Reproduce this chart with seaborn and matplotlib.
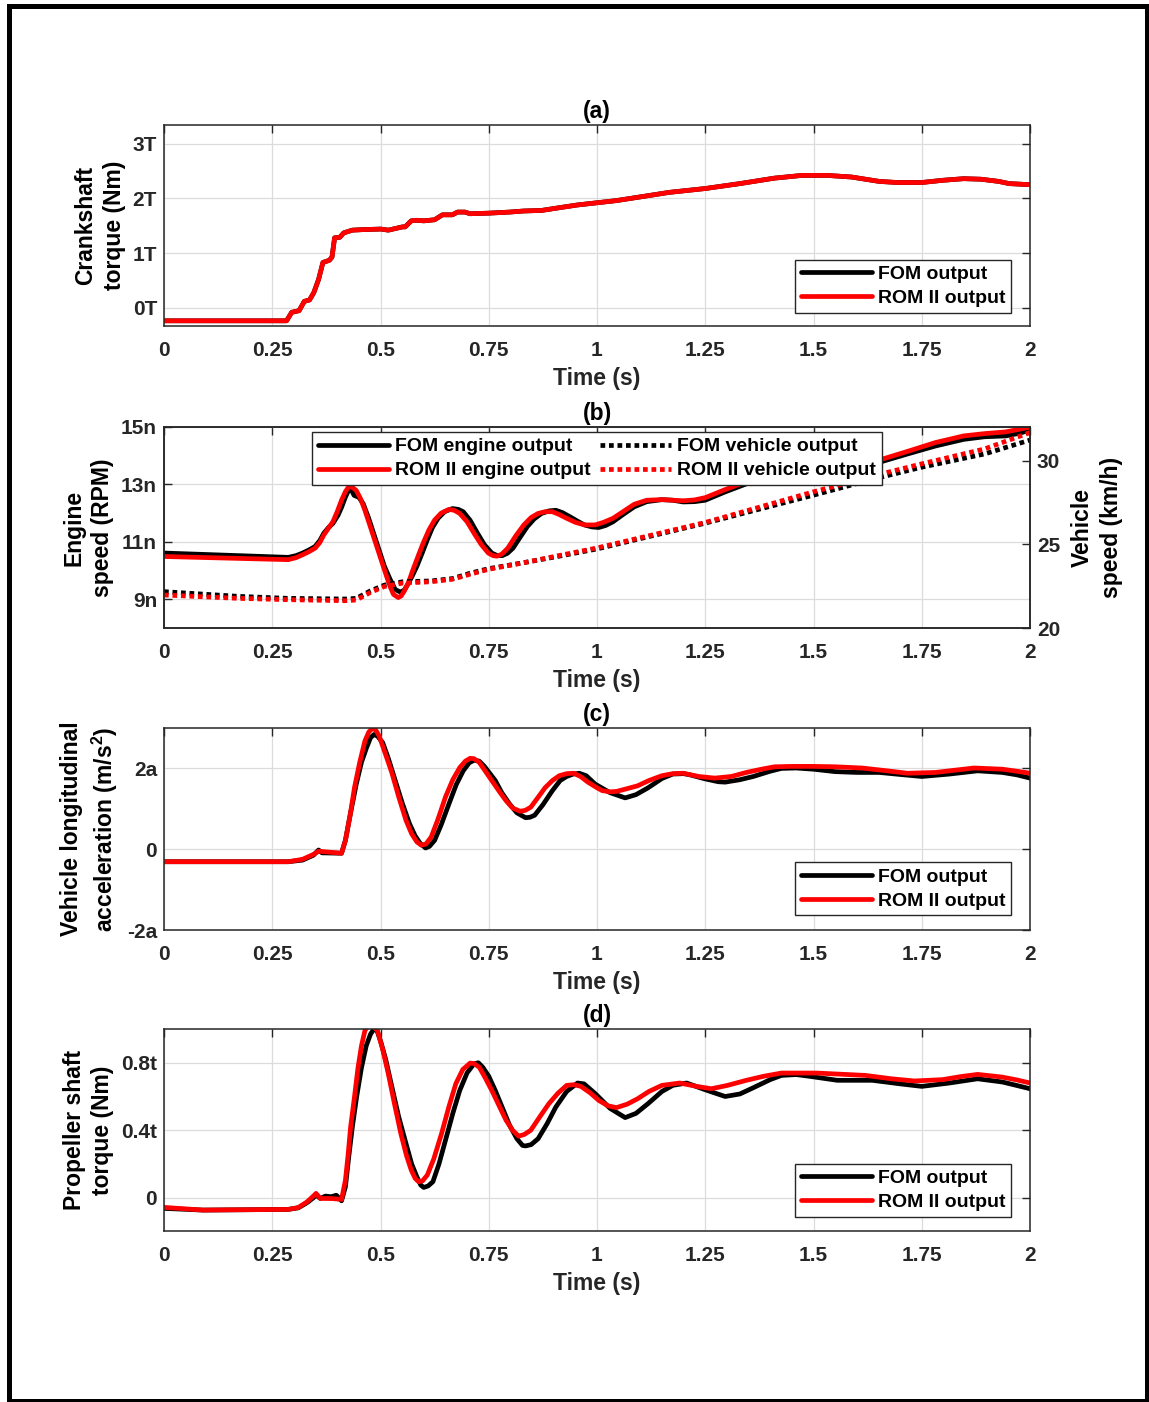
import matplotlib
matplotlib.use("Agg")
import matplotlib.pyplot as plt
import seaborn as sns
from matplotlib.patches import Rectangle

# ---------------- data ----------------
time_ticks = [0, 0.25, 0.5, 0.75, 1, 1.25, 1.5, 1.75, 2]
time_tick_labels = ["0", "0.25", "0.5", "0.75", "1", "1.25", "1.5", "1.75", "2"]

# (a) crankshaft torque, (time, value) pairs
crank_fom_pts = [(0, -0.235), (0.1, -0.235), (0.2, -0.235), (0.283, -0.235), (0.295, -0.08),
                 (0.312, -0.05), (0.324, 0.12), (0.336, 0.145), (0.346, 0.28), (0.357, 0.52),
                 (0.367, 0.83), (0.382, 0.87), (0.388, 0.93), (0.394, 1.28), (0.406, 1.29),
                 (0.415, 1.37), (0.435, 1.42), (0.46, 1.43), (0.501, 1.44), (0.518, 1.42),
                 (0.551, 1.48), (0.557, 1.48), (0.571, 1.59), (0.584, 1.60), (0.6, 1.59),
                 (0.625, 1.61), (0.643, 1.70), (0.666, 1.70), (0.678, 1.75), (0.695, 1.75),
                 (0.707, 1.72), (0.749, 1.73), (0.798, 1.75), (0.831, 1.77), (0.872, 1.78),
                 (0.913, 1.83), (0.955, 1.88), (1.0, 1.92), (1.045, 1.96), (1.086, 2.01),
                 (1.167, 2.11), (1.25, 2.18), (1.33, 2.27), (1.41, 2.37), (1.474, 2.42),
                 (1.531, 2.42), (1.588, 2.39), (1.652, 2.31), (1.693, 2.29), (1.75, 2.29),
                 (1.798, 2.33), (1.847, 2.36), (1.887, 2.35), (1.928, 2.31), (1.952, 2.27),
                 (2.0, 2.25)]
crank_rom_pts = list(crank_fom_pts)
crank_yticks = [0, 1, 2, 3]
crank_yticklabels = ["0T", "1T", "2T", "3T"]

# (b) engine speed (left axis)
eng_fom_pts = [(0, 10.61), (0.287, 10.46), (0.305, 10.52), (0.32, 10.61), (0.335, 10.72),
               (0.349, 10.84), (0.36, 11.05), (0.369, 11.3), (0.38, 11.5), (0.39, 11.64),
               (0.402, 11.93), (0.41, 12.2), (0.419, 12.56), (0.427, 12.82), (0.433, 12.8),
               (0.439, 12.62), (0.45, 12.55), (0.46, 12.33), (0.472, 11.85), (0.484, 11.3),
               (0.497, 10.7), (0.509, 10.15), (0.522, 9.7), (0.534, 9.34), (0.546, 9.25),
               (0.555, 9.32), (0.563, 9.52), (0.573, 9.8), (0.584, 10.15), (0.596, 10.6),
               (0.608, 11.07), (0.62, 11.5), (0.633, 11.82), (0.648, 12.05), (0.666, 12.16),
               (0.68, 12.13), (0.691, 12.05), (0.707, 11.75), (0.724, 11.3), (0.74, 10.9),
               (0.757, 10.61), (0.77, 10.52), (0.781, 10.52), (0.793, 10.6), (0.806, 10.78),
               (0.822, 11.15), (0.839, 11.53), (0.855, 11.8), (0.872, 11.99), (0.89, 12.08),
               (0.905, 12.1), (0.92, 12.02), (0.938, 11.87), (0.955, 11.72), (0.971, 11.59),
               (0.988, 11.52), (1.004, 11.5), (1.02, 11.57), (1.037, 11.7), (1.06, 11.95),
               (1.086, 12.22), (1.115, 12.4), (1.15, 12.47), (1.175, 12.45), (1.199, 12.39),
               (1.225, 12.4), (1.25, 12.45), (1.296, 12.74), (1.345, 13.02), (1.41, 13.31),
               (1.49, 13.54), (1.57, 13.66), (1.652, 13.77), (1.717, 14.06), (1.782, 14.34),
               (1.847, 14.57), (1.895, 14.66), (1.944, 14.69), (1.975, 14.78), (2.0, 14.89)]
eng_rom_pts = [(0, 10.49), (0.287, 10.38), (0.305, 10.45), (0.32, 10.55), (0.335, 10.66),
               (0.349, 10.78), (0.36, 10.98), (0.369, 11.24), (0.38, 11.48), (0.39, 11.7),
               (0.4, 12.05), (0.41, 12.45), (0.419, 12.75), (0.427, 12.93), (0.435, 12.9),
               (0.444, 12.79), (0.454, 12.5), (0.464, 12.1), (0.476, 11.55), (0.489, 10.95),
               (0.502, 10.35), (0.514, 9.8), (0.522, 9.45), (0.53, 9.17), (0.541, 9.06),
               (0.548, 9.12), (0.555, 9.29), (0.565, 9.6), (0.575, 10.03), (0.588, 10.55),
               (0.6, 11.01), (0.612, 11.42), (0.625, 11.76), (0.64, 12.0), (0.658, 12.13),
               (0.67, 12.1), (0.683, 11.99), (0.7, 11.7), (0.716, 11.3), (0.733, 10.9),
               (0.749, 10.61), (0.76, 10.52), (0.769, 10.5), (0.78, 10.57), (0.794, 10.78),
               (0.812, 11.2), (0.831, 11.59), (0.848, 11.85), (0.864, 11.99), (0.88, 12.05),
               (0.897, 12.05), (0.913, 11.95), (0.93, 11.82), (0.95, 11.68), (0.971, 11.59),
               (0.996, 11.59), (1.015, 11.68), (1.037, 11.82), (1.06, 12.05), (1.086, 12.31),
               (1.115, 12.45), (1.15, 12.47), (1.175, 12.45), (1.199, 12.43), (1.225, 12.46),
               (1.25, 12.54), (1.296, 12.82), (1.345, 13.1), (1.41, 13.4), (1.49, 13.62),
               (1.57, 13.74), (1.652, 13.85), (1.717, 14.15), (1.782, 14.46), (1.847, 14.69),
               (1.895, 14.77), (1.944, 14.83), (1.975, 14.92), (2.0, 15.0)]
# (b) vehicle speed (right axis)
veh_t = [0, 0.171, 0.287, 0.419, 0.444, 0.477, 0.509, 0.551, 0.617, 0.666, 0.707, 0.749,
         0.831, 0.913, 1.0, 1.25, 1.5, 1.652, 1.75, 1.895, 2.0]
veh_fom = [22.17, 21.89, 21.77, 21.73, 21.77, 22.22, 22.56, 22.76, 22.81, 22.95, 23.27,
           23.54, 23.9, 24.29, 24.72, 26.26, 27.93, 28.98, 29.6, 30.39, 31.22]
veh_rom = [21.97, 21.77, 21.69, 21.63, 21.67, 22.13, 22.48, 22.68, 22.76, 22.91, 23.21,
           23.5, 23.9, 24.33, 24.78, 26.3, 28.13, 29.17, 29.8, 30.69, 31.67]
eng_yticks = [9, 11, 13, 15]
eng_yticklabels = ["9n", "11n", "13n", "15n"]
veh_yticks = [20, 25, 30]
veh_yticklabels = ["20", "25", "30"]

# (c) vehicle longitudinal acceleration
acc_fom_pts = [(0, -0.31), (0.287, -0.31), (0.32, -0.27), (0.345, -0.15), (0.357, -0.02),
               (0.365, -0.09), (0.41, -0.1), (0.419, 0.22), (0.43, 0.85), (0.444, 1.61),
               (0.456, 2.15), (0.468, 2.52), (0.477, 2.76), (0.485, 2.84), (0.493, 2.8),
               (0.505, 2.64), (0.518, 2.25), (0.534, 1.7), (0.55, 1.15), (0.567, 0.63),
               (0.58, 0.33), (0.592, 0.14), (0.604, 0.03), (0.613, 0.07), (0.625, 0.22),
               (0.64, 0.6), (0.658, 1.12), (0.675, 1.6), (0.691, 1.94), (0.705, 2.14),
               (0.716, 2.2), (0.728, 2.18), (0.74, 2.05), (0.765, 1.7), (0.78, 1.4),
               (0.798, 1.12), (0.815, 0.9), (0.835, 0.78), (0.845, 0.79), (0.856, 0.84),
               (0.875, 1.1), (0.897, 1.45), (0.915, 1.7), (0.93, 1.8), (0.945, 1.86),
               (0.959, 1.88), (0.975, 1.82), (0.996, 1.61), (1.03, 1.4), (1.065, 1.27),
               (1.09, 1.35), (1.118, 1.52), (1.15, 1.75), (1.175, 1.86), (1.2, 1.87),
               (1.215, 1.84), (1.25, 1.74), (1.28, 1.67), (1.296, 1.66), (1.33, 1.72),
               (1.361, 1.8), (1.4, 1.93), (1.426, 2.0), (1.46, 2.01), (1.5, 1.98),
               (1.55, 1.92), (1.6, 1.9), (1.652, 1.9), (1.7, 1.85), (1.75, 1.8),
               (1.814, 1.86), (1.879, 1.94), (1.936, 1.9), (1.97, 1.84), (2.0, 1.76)]
acc_rom_pts = [(0, -0.31), (0.287, -0.31), (0.32, -0.25), (0.345, -0.13), (0.357, -0.05),
               (0.41, -0.1), (0.419, 0.22), (0.43, 0.85), (0.44, 1.53), (0.452, 2.15),
               (0.464, 2.68), (0.473, 2.9), (0.481, 2.99), (0.489, 2.95), (0.497, 2.8),
               (0.51, 2.4), (0.526, 1.9), (0.542, 1.3), (0.559, 0.71), (0.572, 0.38),
               (0.584, 0.18), (0.594, 0.1), (0.605, 0.13), (0.617, 0.3), (0.633, 0.75),
               (0.65, 1.29), (0.667, 1.72), (0.683, 2.02), (0.696, 2.18), (0.707, 2.25),
               (0.716, 2.24), (0.728, 2.15), (0.757, 1.7), (0.775, 1.42), (0.79, 1.2),
               (0.805, 1.02), (0.822, 0.94), (0.834, 0.96), (0.847, 1.04), (0.865, 1.3),
               (0.88, 1.52), (0.897, 1.7), (0.913, 1.82), (0.93, 1.87), (0.946, 1.88),
               (0.962, 1.8), (0.979, 1.66), (1.0, 1.52), (1.012, 1.45), (1.03, 1.42),
               (1.045, 1.43), (1.07, 1.5), (1.094, 1.57), (1.12, 1.7), (1.15, 1.82),
               (1.175, 1.87), (1.199, 1.88), (1.235, 1.8), (1.272, 1.76), (1.31, 1.8),
               (1.345, 1.9), (1.38, 1.98), (1.41, 2.04), (1.45, 2.05), (1.5, 2.05),
               (1.55, 2.04), (1.612, 2.01), (1.67, 1.94), (1.717, 1.88), (1.782, 1.9),
               (1.83, 1.96), (1.871, 2.01), (1.936, 1.98), (1.97, 1.93), (2.0, 1.88)]
acc_yticks = [-2, 0, 2]
acc_yticklabels = ["-2a", "0", "2a"]

# (d) propeller shaft torque
prop_fom_pts = [(0, -0.063), (0.09, -0.073), (0.287, -0.069), (0.31, -0.06), (0.33, -0.03),
                (0.345, 0.0), (0.351, 0.016), (0.361, -0.004), (0.373, 0.01), (0.386, 0.006),
                (0.398, 0.015), (0.41, -0.018), (0.419, 0.065), (0.427, 0.25), (0.435, 0.42),
                (0.445, 0.6), (0.456, 0.77), (0.467, 0.9), (0.477, 0.97), (0.485, 1.0),
                (0.492, 0.99), (0.5, 0.93), (0.512, 0.82), (0.526, 0.66), (0.542, 0.48),
                (0.559, 0.32), (0.572, 0.2), (0.584, 0.124), (0.593, 0.075), (0.6, 0.061),
                (0.61, 0.07), (0.621, 0.095), (0.635, 0.2), (0.65, 0.34), (0.667, 0.5),
                (0.683, 0.636), (0.7, 0.74), (0.716, 0.794), (0.726, 0.8), (0.736, 0.774),
                (0.75, 0.72), (0.765, 0.636), (0.782, 0.53), (0.798, 0.43), (0.815, 0.35),
                (0.828, 0.31), (0.835, 0.307), (0.848, 0.315), (0.864, 0.35), (0.885, 0.44),
                (0.905, 0.538), (0.93, 0.63), (0.955, 0.68), (0.97, 0.675), (0.996, 0.617),
                (1.03, 0.53), (1.065, 0.475), (1.09, 0.5), (1.118, 0.558), (1.15, 0.63),
                (1.175, 0.666), (1.207, 0.68), (1.25, 0.64), (1.296, 0.6), (1.33, 0.615),
                (1.361, 0.652), (1.4, 0.7), (1.426, 0.725), (1.46, 0.73), (1.49, 0.72),
                (1.555, 0.696), (1.636, 0.696), (1.7, 0.675), (1.75, 0.66), (1.814, 0.68),
                (1.879, 0.705), (1.936, 0.686), (1.97, 0.665), (2.0, 0.646)]
prop_rom_pts = [(0, -0.057), (0.09, -0.073), (0.287, -0.069), (0.31, -0.058), (0.33, -0.025),
                (0.345, 0.01), (0.351, 0.026), (0.361, -0.004), (0.39, -0.005), (0.41, -0.01),
                (0.419, 0.104), (0.425, 0.25), (0.431, 0.42), (0.44, 0.6), (0.448, 0.77),
                (0.456, 0.9), (0.464, 0.99), (0.471, 1.02), (0.477, 1.02), (0.485, 1.01),
                (0.493, 0.99), (0.505, 0.88), (0.518, 0.735), (0.532, 0.56), (0.547, 0.38),
                (0.56, 0.25), (0.571, 0.164), (0.58, 0.115), (0.588, 0.095), (0.597, 0.1),
                (0.608, 0.134), (0.623, 0.23), (0.641, 0.38), (0.658, 0.54), (0.674, 0.676),
                (0.69, 0.76), (0.707, 0.798), (0.716, 0.795), (0.728, 0.774), (0.742, 0.71),
                (0.757, 0.636), (0.773, 0.55), (0.79, 0.459), (0.805, 0.4), (0.819, 0.365),
                (0.832, 0.375), (0.847, 0.4), (0.868, 0.48), (0.889, 0.558), (0.91, 0.62),
                (0.93, 0.666), (0.947, 0.67), (0.963, 0.66), (0.985, 0.62), (1.004, 0.577),
                (1.025, 0.545), (1.045, 0.534), (1.07, 0.555), (1.094, 0.587), (1.12, 0.63),
                (1.15, 0.666), (1.191, 0.68), (1.23, 0.66), (1.264, 0.646), (1.3, 0.665),
                (1.345, 0.696), (1.385, 0.72), (1.426, 0.739), (1.507, 0.739), (1.62, 0.725),
                (1.68, 0.705), (1.733, 0.692), (1.798, 0.7), (1.84, 0.718), (1.879, 0.731),
                (1.936, 0.715), (1.97, 0.698), (2.0, 0.68)]
prop_yticks = [0, 0.4, 0.8]
prop_yticklabels = ["0", "0.4t", "0.8t"]

# ---------------- style ----------------
sns.set_theme(style="whitegrid")
plt.rcParams["font.family"] = ["Liberation Sans", "DejaVu Sans"]
plt.rcParams["font.weight"] = "bold"
plt.rcParams["axes.labelweight"] = "bold"
plt.rcParams["axes.titleweight"] = "bold"
plt.rcParams["mathtext.fontset"] = "custom"
plt.rcParams["mathtext.rm"] = "Liberation Sans:bold"
plt.rcParams["mathtext.bf"] = "Liberation Sans:bold"
plt.rcParams["mathtext.default"] = "bf"

INK = "#262626"
LW = 3.4
TICK_FS = 15
LABEL_FS = 16.5
LEG_FS = 14

W, H = 1149, 1402
fig = plt.figure(figsize=(W / 100, H / 100), dpi=100)


def add_axes(top_px, bottom_px):
    left, right = 164, 1030
    return fig.add_axes([left / W, 1 - bottom_px / H, (right - left) / W,
                         (bottom_px - top_px) / H])


def style_axes(ax, ylim, yticks, yticklabels, ylabel, title, right_ticks=True):
    ax.set_facecolor("white")
    ax.set_xlim(0, 2)
    ax.set_ylim(*ylim)
    ax.set_xticks(time_ticks)
    ax.set_xticklabels(time_tick_labels)
    ax.set_yticks(yticks)
    ax.set_yticklabels(yticklabels)
    ax.grid(True, color="#dcdcdc", lw=0.9)
    ax.set_axisbelow(True)
    for s in ax.spines.values():
        s.set_color(INK)
        s.set_linewidth(1.1)
        s.set_visible(True)
    ax.tick_params(axis="both", direction="in", length=6, width=1.0, color=INK,
                   labelcolor=INK, labelsize=TICK_FS, top=True, right=right_ticks)
    ax.tick_params(axis="x", pad=10.5)
    ax.tick_params(axis="y", pad=5)
    ax.set_xlabel("Time (s)", fontsize=LABEL_FS, color=INK, labelpad=5)
    ax.set_ylabel(ylabel, fontsize=LABEL_FS, color="black", linespacing=1.3, labelpad=5)
    ax.set_title(title, fontsize=LABEL_FS, color="black", pad=5)


def draw(ax, t, v, color, label, dotted=False):
    sns.lineplot(x=list(t), y=list(v), ax=ax, color=color, lw=LW, estimator=None,
                 sort=False, legend=False, label=label)
    line = ax.lines[-1]
    line.set_solid_joinstyle("round")
    if dotted:
        line.set_dashes((1.0, 0.8))
    return line


def draw_pts(ax, pts, color, label):
    t, v = zip(*pts)
    return draw(ax, t, v, color, label)


def add_legend(ax, handles, **kw):
    leg = ax.legend(handles=handles, labels=[h.get_label() for h in handles],
                    prop={"weight": "bold", "size": LEG_FS}, frameon=True, fancybox=False,
                    framealpha=1, edgecolor=INK, facecolor="white", handlelength=3.65,
                    handletextpad=0.3, borderpad=0.3, labelspacing=0.33,
                    borderaxespad=0, **kw)
    leg.get_frame().set_linewidth(1.0)
    for txt in leg.get_texts():
        txt.set_color("black")
    return leg


RED = "#ff0000"

# (a)
ax_a = add_axes(125, 326)
h1 = draw_pts(ax_a, crank_fom_pts, "black", "FOM output")
h2 = draw_pts(ax_a, crank_rom_pts, RED, "ROM II output")
style_axes(ax_a, (-0.33, 3.34), crank_yticks, crank_yticklabels,
           "Crankshaft\ntorque (Nm)", "(a)")
add_legend(ax_a, [h1, h2], loc="lower right", bbox_to_anchor=(0.978, 0.065))

# (b)
ax_b = add_axes(427, 628)
ax_v = ax_b.twinx()
e1 = draw_pts(ax_b, eng_fom_pts, "black", "FOM engine output")
e2 = draw_pts(ax_b, eng_rom_pts, RED, "ROM II engine output")
v1 = draw(ax_v, veh_t, veh_fom, "black", "FOM vehicle output", dotted=True)
v2 = draw(ax_v, veh_t, veh_rom, RED, "ROM II vehicle output", dotted=True)
style_axes(ax_b, (8, 15), eng_yticks, eng_yticklabels, "Engine\nspeed (RPM)", "(b)",
           right_ticks=False)
ax_v.set_ylim(20, 32)
ax_v.set_yticks(veh_yticks)
ax_v.set_yticklabels(veh_yticklabels)
ax_v.grid(False)
ax_v.patch.set_visible(False)
for s in ax_v.spines.values():
    s.set_color(INK)
    s.set_linewidth(1.1)
ax_v.tick_params(axis="y", direction="in", length=6, width=1.0, color=INK,
                 labelcolor=INK, labelsize=TICK_FS, right=True, pad=5)
ax_v.set_ylabel("Vehicle\nspeed (km/h)", fontsize=LABEL_FS, color="black",
                linespacing=1.3, labelpad=8)
add_legend(ax_v, [e1, e2, v1, v2], loc="upper center", bbox_to_anchor=(0.5, 0.975),
           ncol=2, columnspacing=0.5)

# (c)
ax_c = add_axes(728, 930)
c1 = draw_pts(ax_c, acc_fom_pts, "black", "FOM output")
c2 = draw_pts(ax_c, acc_rom_pts, RED, "ROM II output")
style_axes(ax_c, (-2, 3), acc_yticks, acc_yticklabels,
           "Vehicle longitudinal\nacceleration (m/s$^2$)", "(c)")
add_legend(ax_c, [c1, c2], loc="lower right", bbox_to_anchor=(0.978, 0.072))

# (d)
ax_d = add_axes(1029, 1231)
d1 = draw_pts(ax_d, prop_fom_pts, "black", "FOM output")
d2 = draw_pts(ax_d, prop_rom_pts, RED, "ROM II output")
style_axes(ax_d, (-0.197, 1.0), prop_yticks, prop_yticklabels,
           "Propeller shaft\ntorque (Nm)", "(d)")
add_legend(ax_d, [d1, d2], loc="lower right", bbox_to_anchor=(0.978, 0.07))

# outer frame
fig.patches.append(Rectangle((9 / W, 1 - 1400.5 / H), (1146.5 - 9) / W,
                             (1400.5 - 5.5) / H, transform=fig.transFigure,
                             fill=False, lw=3.6, ec="black", zorder=10))

fig.savefig("out.png", dpi=100)
